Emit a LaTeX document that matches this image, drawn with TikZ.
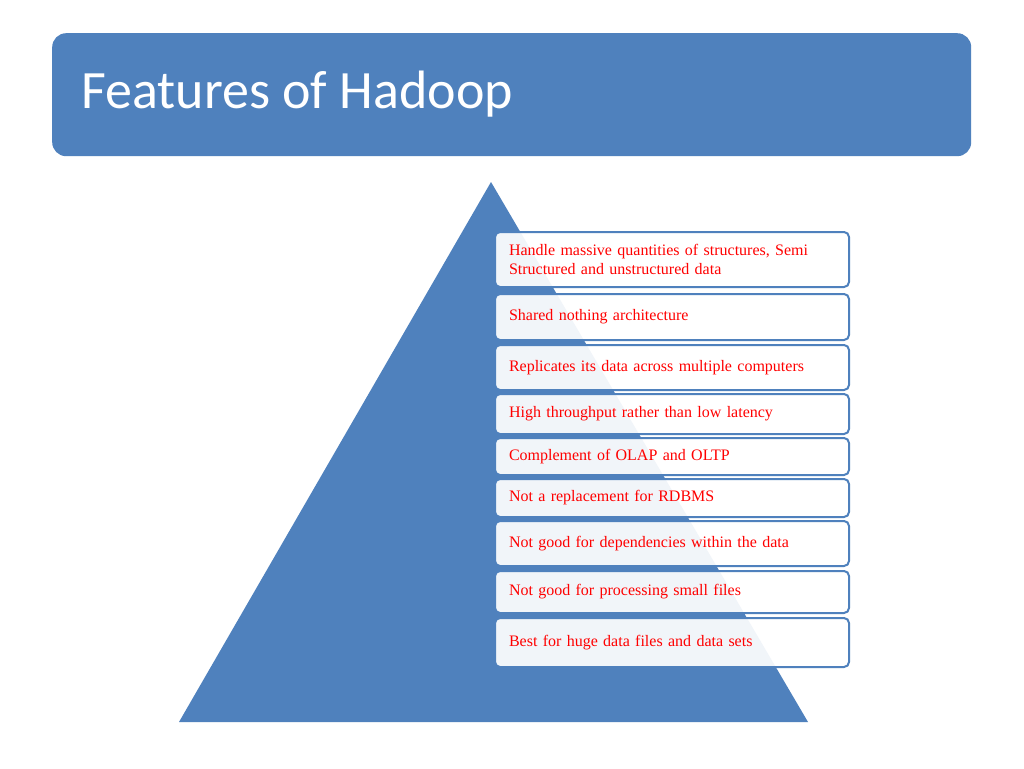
\documentclass[tikz,border=0pt]{standalone}
\usepackage{fontspec}
\setmainfont{Liberation Serif}
\newfontfamily\titlefont{Carlito}
\definecolor{hblue}{HTML}{4F81BD}
\tikzset{feat/.style={draw=hblue,line width=2pt,fill=white,fill opacity=0.92,text opacity=1,rounded corners=5pt,minimum width=354pt,text width=340pt,align=left,inner sep=0pt,anchor=north west,font=\fontsize{16}{19}\selectfont,text=red}}
\begin{document}
\begin{tikzpicture}[x=1pt,y=-1pt]
\useasboundingbox[fill=white] (0,0) rectangle (1024,768);
\node[fill=hblue,rounded corners=14pt,minimum width=919pt,minimum height=123pt,anchor=north west,inner sep=0pt] (hdr) at (52,33) {};
\node[anchor=west,text=white,font=\titlefont\fontsize{54}{60}\selectfont] (title) at (78,94) {Features of Hadoop};
\fill[hblue] (491,182) -- (808,722) -- (179,722) -- cycle;
\foreach \n/\t/\b/\txt in {
 a/231/286/{Handle massive quantities of structures, Semi Structured and unstructured data},
 b/293/339/{Shared nothing architecture},
 c/344/389/{Replicates its data across multiple computers},
 d/393/433/{High throughput rather than low latency},
 e/437/474/{Complement of OLAP and OLTP},
 f/478/516/{Not a replacement for RDBMS},
 g/520/565/{Not good for dependencies within the data},
 h/570/612/{Not good for processing small files},
 i/617/666/{Best for huge data files and data sets}}{
 \pgfmathsetmacro\hh{\b-\t}
 \node[feat,minimum height=\hh pt] (\n) at (494,\t) {\hspace*{7pt}\parbox{340pt}{\raggedright\txt}};
}
\end{tikzpicture}
\end{document}
